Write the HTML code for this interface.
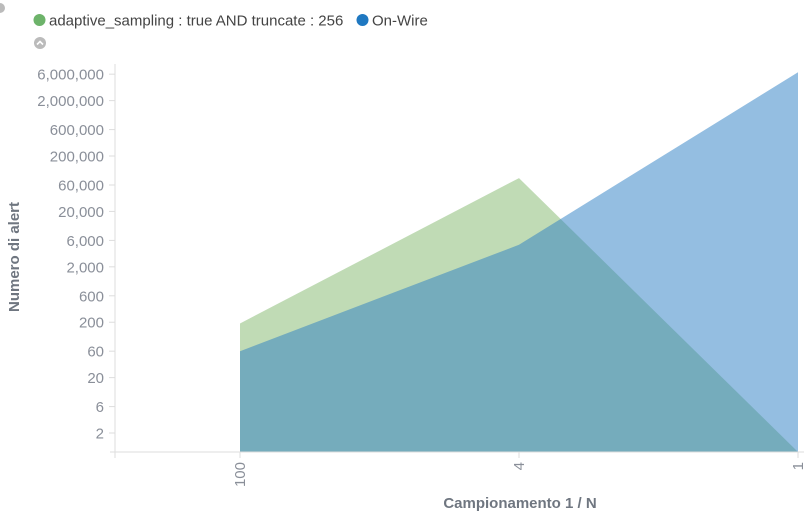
<!DOCTYPE html>
<html><head><meta charset="utf-8"><style>
body{margin:0;background:#fff;width:808px;height:515px;overflow:hidden;font-family:"Liberation Sans",sans-serif}
svg{position:absolute;left:0;top:0}
</style></head><body>
<svg id="c" width="808" height="515">
  <circle cx="0" cy="8" r="5" fill="#bbb"/>
  <g>
    <g>
      <circle cx="39.5" cy="20" r="6" fill="#6db36a"/>
      <text x="49" y="25.5" font-size="15" fill="#444">adaptive_sampling : true AND truncate : 256</text>
    </g>
    <g>
      <circle cx="362.5" cy="20" r="6" fill="#1f78c1"/>
      <text x="372" y="25.5" font-size="15" fill="#444">On-Wire</text>
    </g>
    <g>
      <circle cx="40" cy="43" r="6" fill="#bbb"/>
      <path d="M37 44.5 L40 41.5 L43 44.5" stroke="#fff" stroke-width="1.6" fill="none"/>
    </g>
  </g>
  <g id="plot"></g>
  <text x="0" y="0" transform="translate(19,257) rotate(-90)" text-anchor="middle" font-size="15" font-weight="bold" fill="#6f7680">Numero di alert</text>
  <text x="520" y="508" text-anchor="middle" font-size="15" font-weight="bold" fill="#6f7680">Campionamento 1 / N</text>
</svg>
<script>
const categories=["100","4","1"];
const greenValues=[190,80000,0];
const blueValues=[60,5000,6500000];
const yTicks=[2,6,20,60,200,600,2000,6000,20000,60000,200000,600000,2000000,6000000];
const yTickLabels=["2","6","20","60","200","600","2,000","6,000","20,000","60,000","200,000","600,000","2,000,000","6,000,000"];

{
const NS="http://www.w3.org/2000/svg";
const g=document.getElementById('plot');
const base=452, leftX=115, rightX=800, plotTop=64;
function yScale(v){return v<1?base:449.7-55.4*Math.log10(v);}
function xScale(i){return 240+i*279;}
function mk(t,a){const e=document.createElementNS(NS,t);for(const k in a)e.setAttribute(k,a[k]);g.appendChild(e);return e;}
function area(vals,fill,name){
  let d="M"+xScale(0)+","+base;
  vals.forEach((v,i)=>{d+=" L"+xScale(i)+","+yScale(v);});
  d+=" L"+xScale(vals.length-1)+","+base+" Z";
  const p=mk('path',{d:d,fill:fill,'fill-opacity':0.5});
  
  
}
area(greenValues,"#81b86b","area-adaptive-sampling");
area(blueValues,"#2a7dc4","area-on-wire");
const ya=mk('line',{x1:leftX,y1:plotTop,x2:leftX,y2:base,stroke:'#ddd'});


const xa=mk('line',{x1:leftX-5,y1:base,x2:rightX+4,y2:base,stroke:'#ddd'});


yTicks.forEach((v,i)=>{
  const y=yScale(v);
  mk('line',{x1:leftX-6,y1:y,x2:leftX,y2:y,stroke:'#ddd'});
  const t=mk('text',{x:104,y:y+5.5,'text-anchor':'end','font-size':15,fill:'#8a8f99'});
  t.textContent=yTickLabels[i];
  
  
});
mk('line',{x1:leftX,y1:base,x2:leftX,y2:base+6,stroke:'#ddd'});
categories.forEach((c,i)=>{
  const x=xScale(i);
  mk('line',{x1:x,y1:base,x2:x,y2:base+6,stroke:'#ddd'});
  const t=mk('text',{x:0,y:0,transform:`translate(${x+5},${base+10}) rotate(-90)`,'text-anchor':'end','font-size':15,fill:'#8a8f99'});
  t.textContent=c;
  
  
});
}
</script>
</body></html>
